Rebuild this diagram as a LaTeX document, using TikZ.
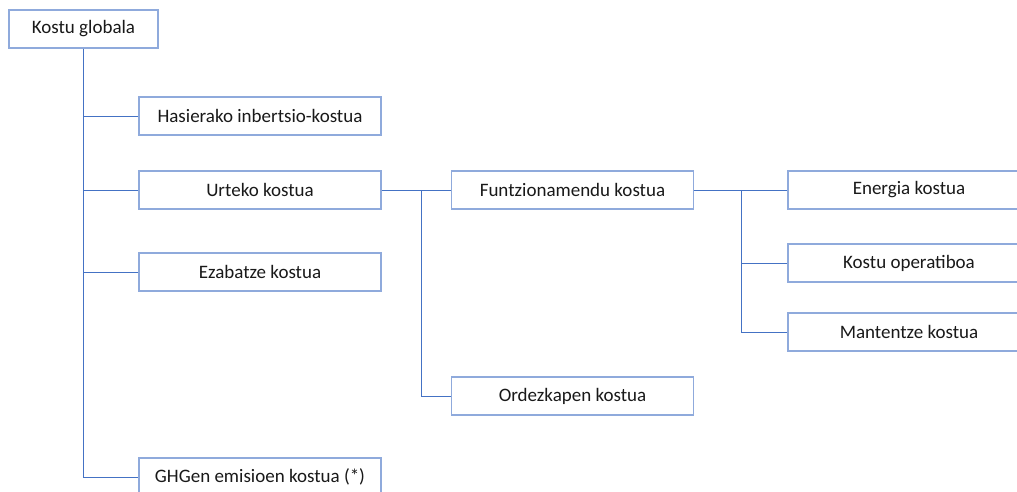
\documentclass[tikz,border=0pt]{standalone}
\usepackage{fontspec}
\setmainfont{Carlito}
\definecolor{boxc}{RGB}{143,170,220}
\definecolor{linec}{RGB}{68,114,196}
\begin{document}
\begin{tikzpicture}[x=1pt,y=-1pt,
  box/.style={draw=boxc,line width=1.2pt,fill=white,minimum width=242pt,minimum height=38pt,inner sep=0pt,font=\fontsize{19}{21}\selectfont,text=black!90},
  conn/.style={draw=linec,line width=0.9pt}]
\useasboundingbox (0,0) rectangle (1017,491);
\clip (0,0) rectangle (1017,491);
\fill[white] (0,0) rectangle (1017,491);
\node[box,minimum width=149pt] (kg) at (83.5,29) {Kostu globala};
\node[box] (ha) at (260,116) {Hasierako inbertsio-kostua};
\node[box] (ur) at (260,190) {Urteko kostua};
\node[box] (ez) at (260,272) {Ezabatze kostua};
\node[box] (gh) at (260,477) {GHGen emisioen kostua (*)};
\node[box] (fu) at (572.5,190) {Funtzionamendu kostua};
\node[box] (or) at (572.5,396) {Ordezkapen kostua};
\node[box] (en) at (909,190) {Energia kostua};
\node[box] (ko) at (909,263) {Kostu operatiboa};
\node[box] (ma) at (909,332) {Mantentze kostua};
\coordinate (t) at (83,0);
\draw[conn] (kg.south -| t) |- (gh.west);
\draw[conn] (ha.west) -- (ha.west -| t);
\draw[conn] (ur.west) -- (ur.west -| t);
\draw[conn] (ez.west) -- (ez.west -| t);
\draw[conn] (ur.east) -- (fu.west);
\coordinate (u) at (421,0);
\draw[conn] (ur.east -| u) |- (or.west);
\draw[conn] (fu.east) -- (en.west);
\coordinate (v) at (741,0);
\draw[conn] (fu.east -| v) |- (ma.west);
\draw[conn] (ko.west) -- (ko.west -| v);
\end{tikzpicture}
\end{document}
